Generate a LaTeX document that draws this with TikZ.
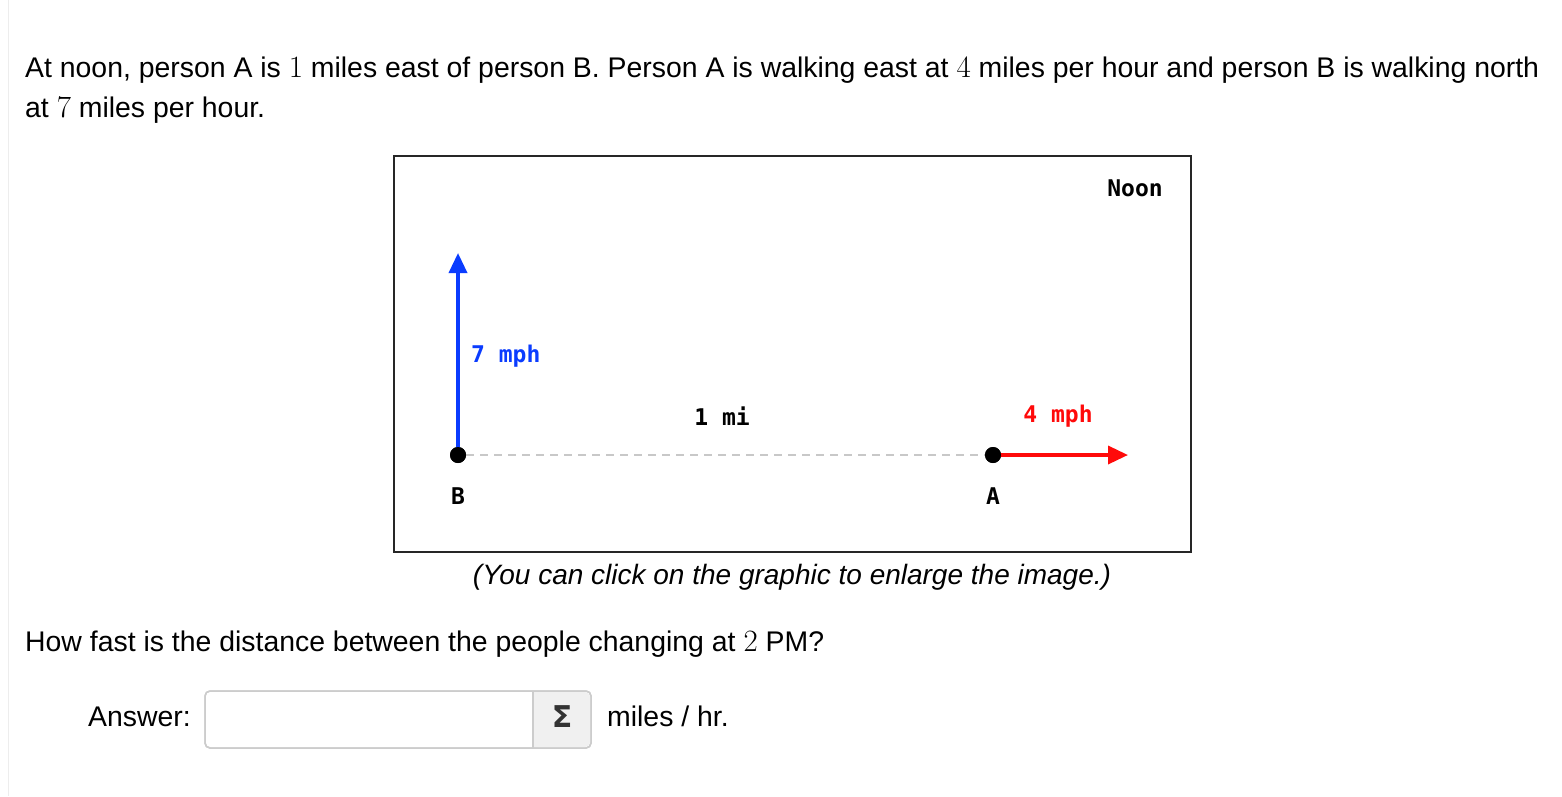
\documentclass[tikz,border=0pt]{standalone}
\usepackage{fontspec}
\setmainfont{Liberation Sans}
\newfontfamily\pixfont{DejaVu Sans Mono}
\newfontfamily\numfont{Latin Modern Roman}
\newfontfamily\symfont{DejaVu Sans}
\newcommand{\nm}[1]{{\numfont\fontsize{31}{30}\selectfont #1}}
\usetikzlibrary{arrows.meta}
\definecolor{mblue}{HTML}{0A3CFF}
\definecolor{mred}{HTML}{FF0A0A}
\definecolor{dashgray}{HTML}{C8C8C8}
\definecolor{inputborder}{HTML}{CCCCCC}
\definecolor{btnfill}{HTML}{F0F0F0}
\tikzset{
  prose/.style={anchor=base west, inner sep=0pt, font=\fontsize{28.4}{32}\selectfont},
  dlabel/.style={inner sep=0pt, font=\fontsize{23}{26}\selectfont\pixfont\bfseries},
  person/.style={circle, fill=black, inner sep=0pt, minimum size=16pt},
}
\begin{document}
\begin{tikzpicture}[x=1pt,y=-1pt]
\useasboundingbox (0,0) rectangle (1562,796);
\fill[white] (0,0) rectangle (1562,796);
\draw[black!7, line width=1pt] (8.5,0) -- (8.5,796);
% prose
\node[prose] (l1) at (25,77) {At noon, person A is \nm{1} miles east of person B. Person A is walking east at \nm{4} miles per hour and person B is walking north};
\node[prose] (l2) at (25,117) {at \nm{7} miles per hour.};
% diagram frame
\node[draw=black!85, line width=2pt, minimum width=797pt, minimum height=396pt, inner sep=0pt, anchor=north west] (frame) at (393,155) {};
\node[dlabel] (noon) at (1135,188) {Noon};
\node[person] (B) at (458,455) {};
\node[person] (A) at (993,455) {};
\coordinate (Btip) at (458,253);
\coordinate (Atip) at (1128,455);
\draw[dashgray, line width=1.5pt, dash pattern=on 8pt off 6pt] (B) -- (A);
\draw[mblue, line width=3.5pt, -{Triangle[length=20pt,width=18pt]}] (B.center) -- (Btip);
\draw[mred, line width=3.5pt, -{Triangle[length=20pt,width=18pt]}] (A.center) -- (Atip);
\node[person] at (458,455) {};
\node[person] at (993,455) {};
\node[dlabel, text=mblue, anchor=west] (v7) at (471,356) {7 mph};
\node[dlabel] (dist) at (722,416) {1 mi};
\node[dlabel, text=mred] (v4) at (1058,416) {4 mph};
\node[dlabel] (lb) at (458,496) {B};
\node[dlabel] (la) at (993,496) {A};
% caption
\node[prose, anchor=base, font=\fontsize{28}{32}\selectfont\itshape] (cap) at (792,584) {(You can click on the graphic to enlarge the image.)};
% question
\node[prose] (q) at (25,651) {How fast is the distance between the people changing at \nm{2} PM?};
\node[prose] (ans) at (88,726) {Answer:};
\draw[inputborder, line width=1.5pt, fill=white, rounded corners=5pt] (205,691) rectangle (591,748);
\fill[btnfill, rounded corners=5pt] (533,692) rectangle (590,747);
\fill[btnfill] (533,692) rectangle (545,747);
\draw[inputborder, line width=1.5pt, rounded corners=5pt] (205,691) rectangle (591,748);
\draw[inputborder, line width=1.5pt] (533,691) -- (533,748);
\node[inner sep=0pt, font=\fontsize{30}{32}\selectfont\symfont\bfseries, text=black!80] (sigma) at (562,717) {Σ};
\node[prose] (unit) at (607,726) {miles / hr.};
\end{tikzpicture}
\end{document}
